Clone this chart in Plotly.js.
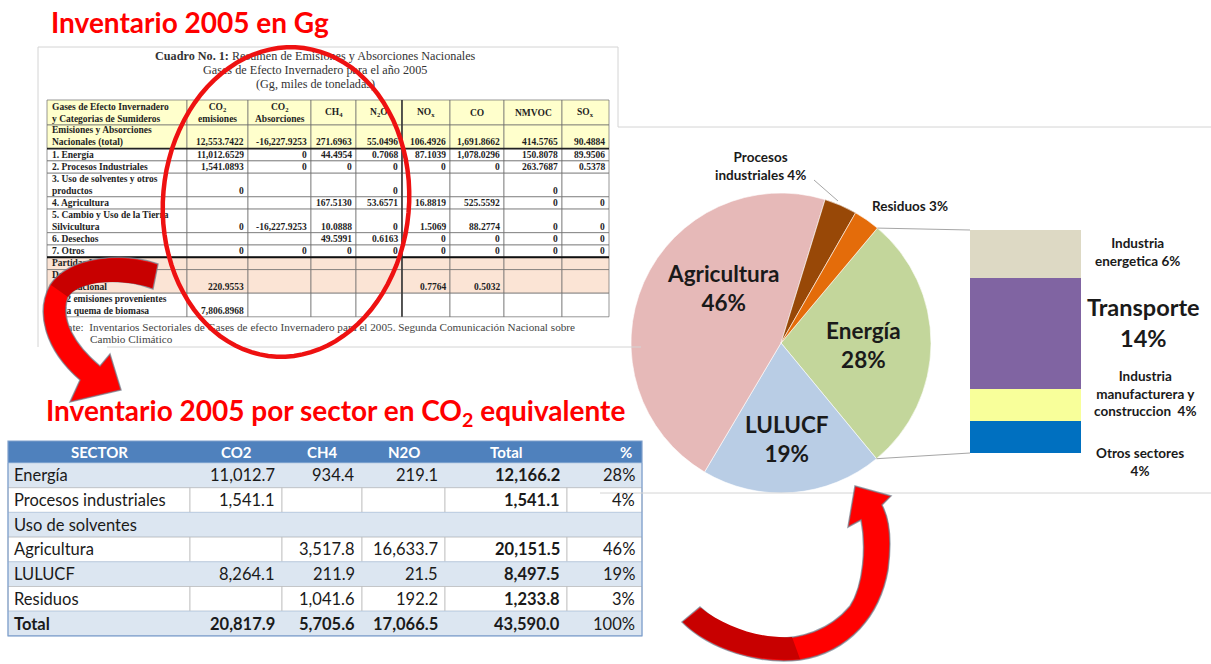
<!DOCTYPE html>
<html>
<head>
<meta charset="utf-8">
<script src="https://cdn.plot.ly/plotly-3.0.1.min.js"></script>
<style>
  html, body { margin: 0; padding: 0; background: #fff; }
  #wrap { position: relative; width: 1211px; height: 664px; }
  #chart, #over { position: absolute; left: 0; top: 0; width: 1211px; height: 664px; }
  #over { pointer-events: none; }
</style>
</head>
<body>
<div id="wrap"><div id="chart"></div><div id="over"></div></div>
<script>
var W = 1211, H = 664;

// Cuadro No. 1 - Gg
var cuadroHead = ["Gases de Efecto Invernadero<br>y Categorias de Sumideros", "CO<sub>2</sub><br>emisiones", "CO<sub>2</sub><br>Absorciones",
  "CH<sub>4</sub>", "N<sub>2</sub>O", "NO<sub>x</sub>", "CO", "NMVOC", "SO<sub>x</sub>"];
var cuadroCats = ["Emisiones y Absorciones<br>Nacionales (total)", "1. Energía", "2. Procesos Industriales",
  "3. Uso de solventes y otros<br>productos", "4. Agricultura", "5. Cambio y Uso de la Tierra<br>Silvicultura",
  "6. Desechos", "7. Otros", "Partidas Informativas", "Depositos Bunker<br>Internacional",
  "CO2 emisiones provenientes<br>de la quema de biomasa"];
var gCO2em = [12553.7422, 11012.6529, 1541.0893, 0, null, 0, null, 0, null, 220.9553, 7806.8968];
var gCO2ab = [-16227.9253, 0, 0, null, null, -16227.9253, null, 0, null, null, null];
var gCH4 = [271.6963, 44.4954, 0, null, 167.5130, 10.0888, 49.5991, 0, null, null, null];
var gN2O = [55.0496, 0.7068, 0, 0, 53.6571, 0, 0.6163, 0, null, null, null];
var gNOx = [106.4926, 87.1039, 0, null, 16.8819, 1.5069, 0, 0, null, 0.7764, null];
var gCO = [1691.8662, 1078.0296, 0, null, 525.5592, 88.2774, 0, 0, null, 0.5032, null];
var gNMVOC = [414.5765, 150.8078, 263.7687, 0, 0, 0, 0, 0, null, null, null];
var gSOx = [90.4884, 89.9506, 0.5378, null, 0, 0, 0, 0, null, null, null];

// Inventario por sector en CO2 equivalente
var t2Head = ["SECTOR", "CO2", "CH4", "N2O", "Total", "%"];
var sectores = ["Energía", "Procesos industriales", "Uso de solventes", "Agricultura", "LULUCF", "Residuos"];
var co2 = [11012.7, 1541.1, null, null, 8264.1, null];
var ch4 = [934.4, null, null, 3517.8, 211.9, 1041.6];
var n2o = [219.1, null, null, 16633.7, 21.5, 192.2];
var totales = [12166.2, 1541.1, null, 20151.5, 8497.5, 1233.8];
var filaTotal = [20817.9, 5705.6, 17066.5, 43590.0];

// sub-division of Energía (% of national total)
var energiaSub = ["Otros sectores", "Industria<br>manufacturera y<br>construccion ", "Transporte", "Industria<br>energetica"];
var energiaPct = [4, 4, 14, 6];

var pieOrder = [0, 4, 3, 1, 5];   // Energía, LULUCF, Agricultura, Procesos, Residuos
var pieColors = ["#C3D69B", "#B9CDE5", "#E6B9B8", "#984807", "#E46C0A"];
var subColors = ["#0070C0", "#F8FF9A", "#8064A2", "#DDD9C4"];

function fmt4(v) {
  if (v === null) return "";
  if (v === 0) return "0";
  return v.toLocaleString("en-US", {minimumFractionDigits: 4, maximumFractionDigits: 4});
}
function fmt1(v) {
  if (v === null) return "";
  return v.toLocaleString("en-US", {minimumFractionDigits: 1, maximumFractionDigits: 1});
}

var shapes = [];
var annotations = [];
function txt(x, y, text, font, extra) {
  var a = {x: x, y: y, xref: "x", yref: "y", text: text, showarrow: false, font: font};
  for (var k in extra) a[k] = extra[k];
  annotations.push(a);
}
function rect(x0, y0, x1, y1, fill, line) {
  shapes.push({type: "rect", xref: "x", yref: "y", x0: x0, y0: y0, x1: x1, y1: y1,
    fillcolor: fill, line: line || {width: 0}});
}
function seg(x0, y0, x1, y1, color, width) {
  shapes.push({type: "line", xref: "x", yref: "y", x0: x0, y0: y0, x1: x1, y1: y1, line: {color: color, width: width}});
}

// ---- table 1 (cuadro) ----
var t1X = [47, 187, 248, 311, 356, 402, 450, 504, 562, 609];
var t1Top = 100, t1HeadH = 25;
var serifB = {family: "Liberation Serif", size: 9.5, color: "#1e1e1e", weight: "bold"};
var gCols = [gCO2em, gCO2ab, gCH4, gN2O, gNOx, gCO, gNMVOC, gSOx];
var nLines = cuadroCats.map(function (c) { return c.split("<br>").length; });
var rowY = [t1Top + t1HeadH];
nLines.forEach(function (n) { rowY.push(rowY[rowY.length - 1] + (n > 1 ? 23.6 : 12.3)); });
var t1Fill = cuadroCats.map(function (c, i) {
  if (i === 0) return "#FFFFCC";
  if (i === 8 || i === 9) return "#FBE4D5";
  return "#FFFFFF";
});
var cellLine = {color: "#6b6b6b", width: 0.7};
cuadroHead.forEach(function (h, j) {
  rect(t1X[j], t1Top, t1X[j + 1], t1Top + t1HeadH, "#FFFFCC", cellLine);
  if (j === 0) txt(t1X[0] + 3, t1Top + t1HeadH / 2, h, serifB, {xanchor: "left", align: "left"});
  else txt((t1X[j] + t1X[j + 1]) / 2, t1Top + t1HeadH / 2, h, serifB);
});
cuadroCats.forEach(function (c, i) {
  var y0 = rowY[i], y1 = rowY[i + 1];
  for (var j = 0; j < t1X.length - 1; j++) rect(t1X[j], y0, t1X[j + 1], y1, t1Fill[i], cellLine);
  txt(t1X[0] + 3, (y0 + y1) / 2, c, serifB, {xanchor: "left", align: "left"});
  gCols.forEach(function (col, j) {
    var s = fmt4(col[i]);
    if (s !== "") txt(t1X[j + 2] - 2, y1 - 6.2, s, serifB, {xanchor: "right"});
  });
});
seg(t1X[0], rowY[1], t1X[9], rowY[1], "#222", 1.6);
seg(t1X[0], rowY[8], t1X[9], rowY[8], "#111", 2);
seg(t1X[5], t1Top, t1X[5], rowY[rowY.length - 1], "#333", 1.5);

// ---- table 2 (CO2 eq) ----
var t2X = [8, 190, 282, 362, 445, 567, 642];
var t2Top = 441, t2HeadH = 22, t2RowH = 24.7;
var cal = "Lato";
var gran = filaTotal[3];
rect(t2X[0], t2Top, t2X[6], t2Top + t2HeadH, "#4F81BD", {width: 0});
t2Head.forEach(function (h, j) {
  var x = j === 5 ? t2X[6] - 8 : (t2X[j] + t2X[j + 1]) / 2;
  txt(x, t2Top + t2HeadH / 2, "<b>" + h + "</b>", {family: cal, size: 15, color: "#FFFFFF"},
    j === 5 ? {xanchor: "right"} : {});
});
var t2Rows = sectores.map(function (s, i) {
  return [s, fmt1(co2[i]), fmt1(ch4[i]), fmt1(n2o[i]),
    totales[i] === null ? "" : "<b>" + fmt1(totales[i]) + "</b>",
    totales[i] === null ? "" : Math.round(totales[i] / gran * 100) + "%"];
});
t2Rows.push(["<b>Total</b>"].concat(filaTotal.map(function (v) { return "<b>" + fmt1(v) + "</b>"; })).concat(["100%"]));
t2Rows.forEach(function (row, i) {
  var y0 = t2Top + t2HeadH + i * t2RowH, y1 = y0 + t2RowH;
  if (i % 2 === 0) {
    rect(t2X[0], y0, t2X[6], y1, "#DCE6F1", {color: "#B8CCE4", width: 0.8});
  } else {
    for (var j = 0; j < 6; j++) rect(t2X[j], y0, t2X[j + 1], y1, "#FFFFFF", {color: "#BDBDBD", width: 0.8});
  }
  var f = {family: cal, size: 16.5, color: "#1a1a1a"};
  txt(t2X[0] + 4, (y0 + y1) / 2, row[0], f, {xanchor: "left"});
  for (var k = 1; k < 6; k++) {
    if (row[k] !== "") txt(t2X[k + 1] - 5, (y0 + y1) / 2, row[k], f, {xanchor: "right"});
  }
});
rect(t2X[0], t2Top, t2X[6], t2Top + t2HeadH + t2Rows.length * t2RowH, "rgba(0,0,0,0)", {color: "#7F9FCB", width: 1.2});

// ---- pie ----
var pieVals = pieOrder.map(function (i) { return totales[i]; });
var pieLabels = pieOrder.map(function (i) { return sectores[i]; });
var pie = {
  type: "pie",
  values: pieVals,
  labels: pieLabels,
  sort: false,
  direction: "clockwise",
  rotation: 40,
  textinfo: "none",
  hoverinfo: "none",
  showlegend: false,
  marker: {colors: pieColors, line: {color: "#ffffff", width: 0.6}},
  domain: {x: [631 / W, 931 / W], y: [1 - 493 / H, 1 - 193 / H]}
};

var bars = energiaSub.map(function (s, i) {
  return {
    type: "bar", x: [0], y: [energiaPct[i]], name: s, width: 1,
    xaxis: "x2", yaxis: "y2", hoverinfo: "none", showlegend: false,
    marker: {color: subColors[i], line: {width: 0}}
  };
});

var holder = {type: "scatter", x: [], y: [], xaxis: "x", yaxis: "y", showlegend: false, hoverinfo: "none"};

// labels
var pct = function (i) { return Math.round(totales[i] / gran * 100) + "%"; };
var dark = function (size) { return {family: cal, size: size, color: "#1a1a1a"}; };
var serif = {family: "Liberation Serif", size: 12.2, color: "#333"};
var fuente = {family: "Liberation Serif", size: 11.2, color: "#444"};
txt(190, 22, "<b>Inventario 2005 en Gg</b>", {family: cal, size: 28, color: "#FF0000"});
txt(315, 56, "<b>Cuadro No. 1:</b> Resumen de Emisiones y Absorciones Nacionales", serif);
txt(315, 70, "Gases de Efecto Invernadero para el año 2005", serif);
txt(315, 84, "(Gg, miles de toneladas)", serif);
txt(48, 327, "Fuente:  Inventarios Sectoriales de Gases de efecto Invernadero para el 2005. Segunda Comunicación Nacional sobre", fuente, {xanchor: "left"});
txt(88, 339, "Cambio Climático", fuente, {xanchor: "left"});
txt(335, 412, "<b>Inventario 2005 por sector en CO<sub>2</sub> equivalente</b>", {family: cal, size: 28, color: "#FF0000"});
txt(723, 288, "<b>" + sectores[3] + "<br>" + pct(3) + "</b>", dark(22.5));
txt(863, 345, "<b>" + sectores[0] + "<br>" + pct(0) + "</b>", dark(22.5));
txt(787, 439, "<b>" + sectores[4] + "<br>" + pct(4) + "</b>", dark(22.5));
txt(760, 166, "<b>Procesos<br>industriales " + pct(1) + "</b>", dark(13.5));
txt(910, 206, "<b>" + sectores[5] + " " + pct(5) + "</b>", dark(13.5));
txt(1137, 252, "<b>" + energiaSub[3] + " " + energiaPct[3] + "%</b>", dark(13.5));
txt(1143, 322, "<b>" + energiaSub[2] + "<br>" + energiaPct[2] + "%</b>", dark(23.5));
txt(1145, 393, "<b>" + energiaSub[1] + " " + energiaPct[1] + "%</b>", dark(13.5));
txt(1140, 462, "<b>" + energiaSub[0] + "<br>" + energiaPct[0] + "%</b>", dark(13.5));

// frames and connector lines
var cx = 781, cy = 343, r = 150;
var a0 = 40 * Math.PI / 180;
var a1 = (40 + 360 * totales[0] / gran) * Math.PI / 180;
shapes.push({type: "path", xref: "x", yref: "y", path: "M38,347 L38,47 L618,47 L618,127 L1211,127", line: {color: "#d4d4d4", width: 1}});
seg(107, 347, 641, 347, "#d4d4d4", 1);
seg(600, 493, 1211, 493, "#d4d4d4", 1);
seg(cx + r * Math.sin(a0), cy - r * Math.cos(a0), 970, 230, "#A6A6A6", 1);
seg(cx + r * Math.sin(a1), cy - r * Math.cos(a1), 970, 453, "#A6A6A6", 1);
seg(814, 180, 838, 201, "#A6A6A6", 1);

var layout = {
  width: W, height: H,
  margin: {l: 0, r: 0, t: 0, b: 0},
  paper_bgcolor: "#ffffff", plot_bgcolor: "rgba(0,0,0,0)",
  showlegend: false,
  barmode: "stack", bargap: 0,
  xaxis: {domain: [0, 1], range: [0, W], visible: false, fixedrange: true},
  yaxis: {domain: [0, 1], range: [H, 0], visible: false, fixedrange: true},
  xaxis2: {domain: [970 / W, 1081 / W], range: [-0.5, 0.5], visible: false, anchor: "y2"},
  yaxis2: {domain: [1 - 453 / H, 1 - 230 / H], range: [0, 28], visible: false, anchor: "x2"},
  annotations: annotations,
  shapes: shapes
};

Plotly.newPlot("chart", [holder, pie].concat(bars), layout, {staticPlot: true});

// red marks drawn over everything
function ellipsePath(ex, ey, rx, ry, rot) {
  var a = rot * Math.PI / 180, pts = [];
  for (var k = 0; k <= 90; k++) {
    var t = k / 90 * 2 * Math.PI;
    var x = rx * Math.cos(t), y = ry * Math.sin(t);
    pts.push((ex + x * Math.cos(a) - y * Math.sin(a)).toFixed(1) + "," + (ey + x * Math.sin(a) + y * Math.cos(a)).toFixed(1));
  }
  return "M" + pts.join(" L") + " Z";
}
var halo = {color: "rgba(110,125,140,0.7)", width: 1.5};
var overShapes = [
  {type: "path", xref: "x", yref: "y", path: ellipsePath(286, 202, 123, 155, 5), line: {color: "#EE1111", width: 4.5}},
  {type: "path", xref: "x", yref: "y", fillcolor: "#FF0000", line: halo,
    path: "M158,264 C125,252 70,255 50,285 C35,312 45,350 80,380 L70,402 L121,390 L110,354 L100,366 C75,345 60,320 68,297 C80,278 125,278 153,289 Z"},
  {type: "path", xref: "x", yref: "y", fillcolor: "#C80000", line: {width: 0},
    path: "M157,265 C125,253 70,256 51,285 L68,297 C80,279 125,279 152,288 Z"},
  {type: "path", xref: "x", yref: "y", fillcolor: "#FF0000", line: halo,
    path: "M682,622 C710,650 760,665 800,660 C850,652 880,615 888,570 C892,540 890,520 882,505 L891,496 L855,486 L848,527 L861,520 C866,545 864,585 850,606 C830,630 800,640 770,638 C745,636 720,625 700,607 Z"},
  {type: "path", xref: "x", yref: "y", fillcolor: "#C80000", line: {width: 0},
    path: "M683,622 C710,649 760,663 800,659 L792,637 C760,639 725,627 701,608 Z"}
];
Plotly.newPlot("over", [], {
  width: W, height: H,
  margin: {l: 0, r: 0, t: 0, b: 0},
  paper_bgcolor: "rgba(0,0,0,0)", plot_bgcolor: "rgba(0,0,0,0)",
  xaxis: {range: [0, W], visible: false, fixedrange: true},
  yaxis: {range: [H, 0], visible: false, fixedrange: true},
  shapes: overShapes
}, {staticPlot: true});
</script>
</body>
</html>
